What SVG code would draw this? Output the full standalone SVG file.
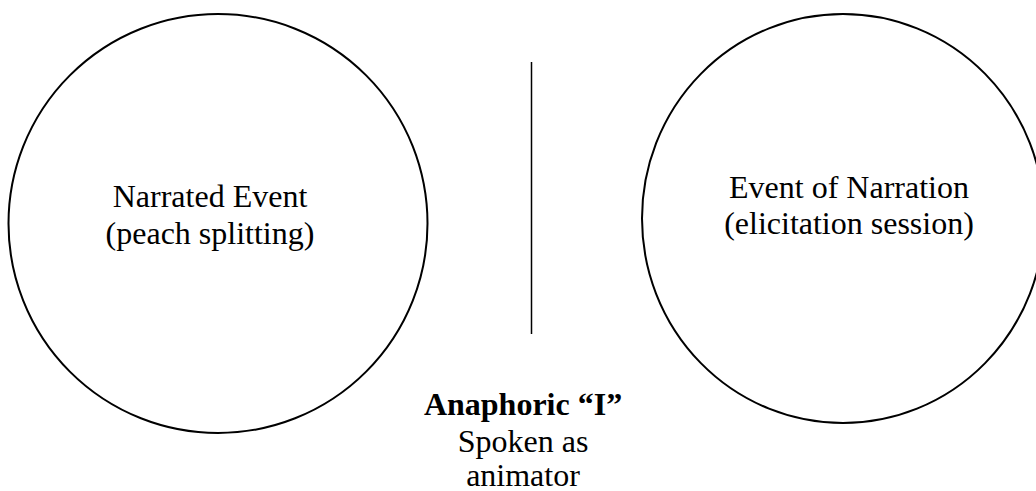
<svg xmlns="http://www.w3.org/2000/svg" width="1036" height="491" viewBox="0 0 1036 491">
  <style>
    .ring { fill: none; stroke: #000; stroke-width: 2; }
    .lbl { font-family: 'Liberation Serif', 'Times New Roman', Times, 'DejaVu Serif', serif; font-size: 32px; fill: #000; text-anchor: middle; }
    .bold { font-weight: bold; }
    .sep { stroke: #000; stroke-width: 1.5; }
  </style>
  <rect width="1036" height="491" fill="#fff"/>
  <g id="narrated-event">
    <ellipse class="ring" cx="218" cy="223.5" rx="209.5" ry="209.5"/>
    <text class="lbl" x="210" y="207">Narrated Event</text>
    <text class="lbl" x="210" y="244">(peach splitting)</text>
  </g>
  <g id="event-of-narration">
    <ellipse class="ring" cx="843" cy="218.5" rx="201" ry="204.5"/>
    <text class="lbl" x="849" y="198">Event of Narration</text>
    <text class="lbl" x="849" y="234">(elicitation session)</text>
  </g>
  <g id="connectors">
    <line class="sep" x1="531.5" y1="62" x2="531.5" y2="334"/>
  </g>
  <g id="anaphoric-i">
    <text class="lbl bold" x="523" y="415">Anaphoric “I”</text>
    <text class="lbl" x="523" y="452">Spoken as</text>
    <text class="lbl" x="523" y="486">animator</text>
  </g>
</svg>
